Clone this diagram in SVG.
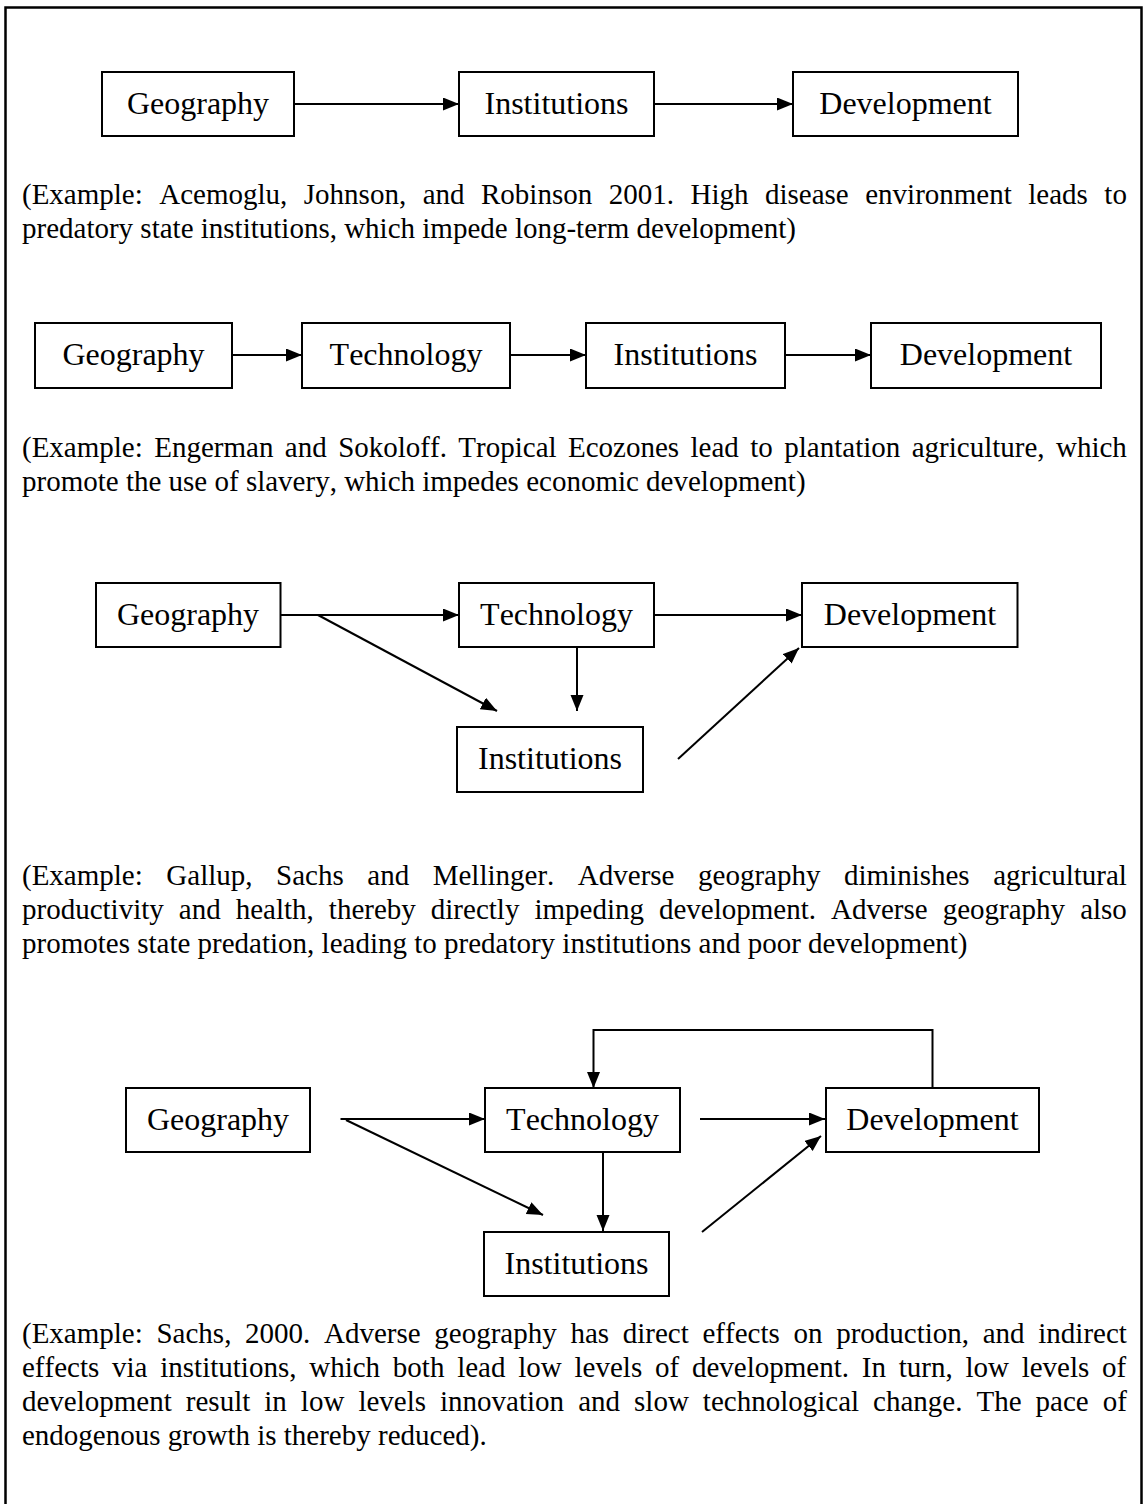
<svg xmlns="http://www.w3.org/2000/svg" width="1145" height="1504" viewBox="0 0 1145 1504">
<defs>
<style>
.box{fill:#fff;stroke:#000;stroke-width:2}
.lbl{font-family:"Liberation Serif","Times New Roman",serif;font-size:32px;text-anchor:middle;fill:#000;font-kerning:none}
.body{font-family:"Liberation Serif","Times New Roman",serif;font-size:29px;fill:#000;font-kerning:none}
.con{stroke:#000;stroke-width:2;fill:none}
.arr{marker-end:url(#ah)}
</style>
<marker id="ah" markerUnits="userSpaceOnUse" markerWidth="17" markerHeight="14" refX="16" refY="6.5" orient="auto">
<path d="M0,0 L16,6.5 L0,13 z" fill="#000"/>
</marker>
</defs>
<rect width="1145" height="1504" fill="#fff"/>
<rect x="5.5" y="7.5" width="1136" height="1520" fill="none" stroke="#000" stroke-width="2.5"/>

<g id="connectors">
<line class="con arr" x1="294" y1="104" x2="459" y2="104"/>
<line class="con arr" x1="654" y1="104" x2="793" y2="104"/>
<line class="con arr" x1="232" y1="355" x2="302" y2="355"/>
<line class="con arr" x1="510" y1="355" x2="586" y2="355"/>
<line class="con arr" x1="785" y1="355" x2="871" y2="355"/>
<line class="con arr" x1="280.5" y1="615" x2="459" y2="615"/>
<line class="con arr" x1="318" y1="615" x2="497" y2="711"/>
<line class="con arr" x1="577" y1="647" x2="577" y2="711"/>
<line class="con arr" x1="654" y1="615" x2="802" y2="615"/>
<line class="con arr" x1="678" y1="759" x2="799" y2="648"/>
<polyline class="con arr" points="932.5,1088 932.5,1030 593.5,1030 593.5,1088"/>
<line class="con arr" x1="340.5" y1="1119" x2="485" y2="1119"/>
<line class="con arr" x1="346" y1="1120" x2="543" y2="1215"/>
<line class="con arr" x1="603" y1="1152" x2="603" y2="1231"/>
<line class="con arr" x1="700" y1="1119" x2="825" y2="1119"/>
<line class="con arr" x1="702" y1="1232" x2="821" y2="1136"/>
</g>

<g id="r1-geography"><rect class="box" x="102" y="72" width="192" height="64"/><text class="lbl" x="198" y="113.5">Geography</text></g>
<g id="r1-institutions"><rect class="box" x="459" y="72" width="195" height="64"/><text class="lbl" x="556.5" y="113.5">Institutions</text></g>
<g id="r1-development"><rect class="box" x="793" y="72" width="225" height="64"/><text class="lbl" x="905.5" y="113.5">Development</text></g>

<g id="r2-geography"><rect class="box" x="35" y="323" width="197" height="65"/><text class="lbl" x="133.5" y="365">Geography</text></g>
<g id="r2-technology"><rect class="box" x="302" y="323" width="208" height="65"/><text class="lbl" x="406" y="365">Technology</text></g>
<g id="r2-institutions"><rect class="box" x="586" y="323" width="199" height="65"/><text class="lbl" x="685.5" y="365">Institutions</text></g>
<g id="r2-development"><rect class="box" x="871" y="323" width="230" height="65"/><text class="lbl" x="986" y="365">Development</text></g>

<g id="r3-geography"><rect class="box" x="96" y="583" width="184.5" height="64"/><text class="lbl" x="188" y="624.5">Geography</text></g>
<g id="r3-technology"><rect class="box" x="459" y="583" width="195" height="64"/><text class="lbl" x="556.5" y="624.5">Technology</text></g>
<g id="r3-development"><rect class="box" x="802" y="583" width="215.5" height="64"/><text class="lbl" x="910" y="624.5">Development</text></g>
<g id="r3-institutions"><rect class="box" x="457" y="727" width="186" height="65"/><text class="lbl" x="550" y="769">Institutions</text></g>

<g id="r4-geography"><rect class="box" x="126" y="1088" width="184" height="64"/><text class="lbl" x="218" y="1129.5">Geography</text></g>
<g id="r4-technology"><rect class="box" x="485" y="1088" width="195" height="64"/><text class="lbl" x="582.5" y="1129.5">Technology</text></g>
<g id="r4-development"><rect class="box" x="826" y="1088" width="213" height="64"/><text class="lbl" x="932.5" y="1129.5">Development</text></g>
<g id="r4-institutions"><rect class="box" x="484" y="1232" width="185" height="64"/><text class="lbl" x="576.5" y="1273.5">Institutions</text></g>

<g id="captions">
<text class="body" x="22" y="204" word-spacing="9.25">(Example: Acemoglu, Johnson, and Robinson 2001. High disease environment leads to</text>
<text class="body" x="22" y="238">predatory state institutions, which impede long-term development)</text>

<text class="body" x="22" y="457" word-spacing="4.19">(Example: Engerman and Sokoloff. Tropical Ecozones lead to plantation agriculture, which</text>
<text class="body" x="22" y="491">promote the use of slavery, which impedes economic development)</text>

<text class="body" x="22" y="885" word-spacing="16.3">(Example: Gallup, Sachs and Mellinger. Adverse geography diminishes agricultural</text>
<text class="body" x="22" y="919" word-spacing="7.78">productivity and health, thereby directly impeding development. Adverse geography also</text>
<text class="body" x="22" y="953">promotes state predation, leading to predatory institutions and poor development)</text>

<text class="body" x="22" y="1343" word-spacing="6.44">(Example: Sachs, 2000. Adverse geography has direct effects on production, and indirect</text>
<text class="body" x="22" y="1377" word-spacing="5.53">effects via institutions, which both lead low levels of development. In turn, low levels of</text>
<text class="body" x="22" y="1411" word-spacing="6.78">development result in low levels innovation and slow technological change. The pace of</text>
<text class="body" x="22" y="1445">endogenous growth is thereby reduced).</text>
</g>
</svg>
